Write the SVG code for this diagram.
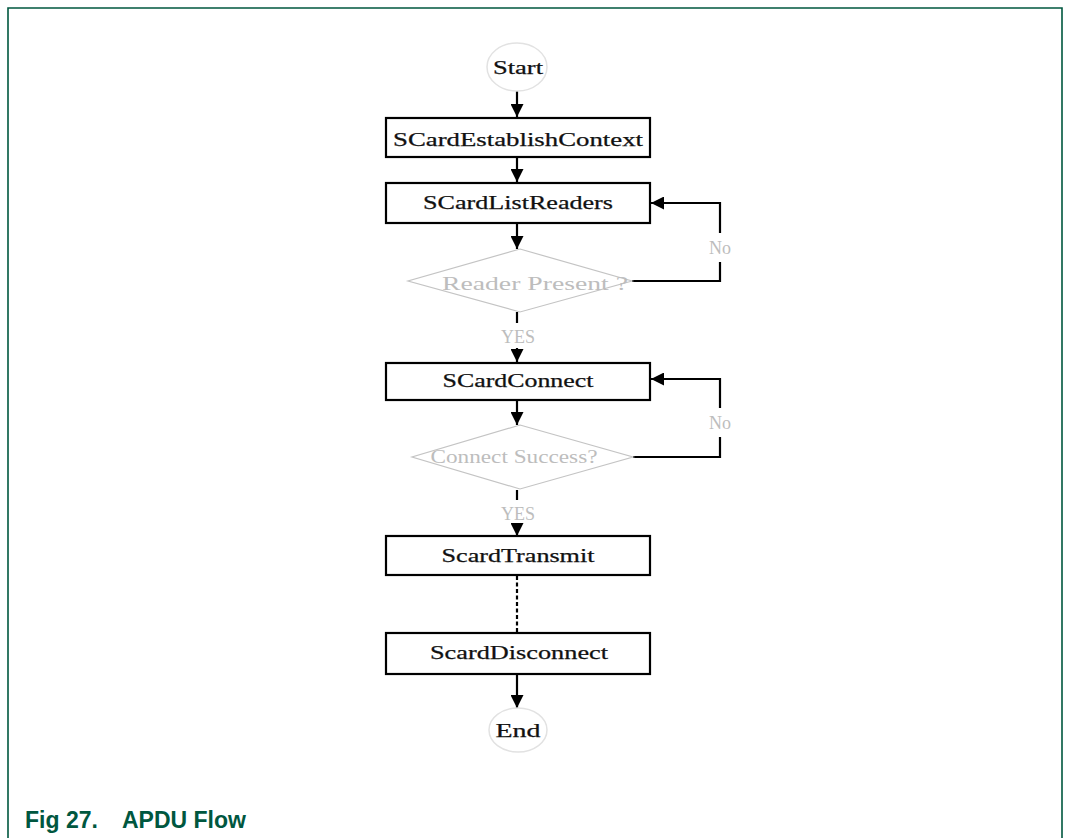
<svg xmlns="http://www.w3.org/2000/svg" width="1066" height="838" viewBox="0 0 1066 838">
  <style>
    .frame { fill: none; stroke: #00573f; stroke-width: 1.6; }
    .box { fill: #ffffff; stroke: #000000; stroke-width: 2.2; }
    .term { fill: #ffffff; stroke: #e2e2e2; stroke-width: 1.5; }
    .dec { fill: none; stroke: #c4c4c4; stroke-width: 1.2; }
    .lbl { font-family: "Liberation Serif", "Times New Roman", serif; font-size: 19px; fill: #111111; stroke: #111111; stroke-width: 0.25; text-anchor: middle; }
    .faint { font-family: "Liberation Serif", "Times New Roman", serif; font-size: 18px; fill: #bdbdbd; text-anchor: middle; }
    .line { fill: none; stroke: #000000; stroke-width: 2.2; }
    .dash { fill: none; stroke: #000000; stroke-width: 2.2; stroke-dasharray: 4 2.5; }
    .caption { font-family: "Liberation Sans", Arial, sans-serif; font-size: 23px; font-weight: bold; fill: #00573f; }
  </style>
  <defs>
    <marker id="arrow" viewBox="0 0 13 13" refX="13" refY="6.5" markerWidth="13" markerHeight="13" markerUnits="userSpaceOnUse" orient="auto">
      <path d="M0,0 L13,6.5 L0,13 Z" fill="#000000"/>
    </marker>
  </defs>

  <rect width="1066" height="838" fill="#ffffff"/>
  <path class="frame" d="M8,838 V8 H1062 V838"/>

  <g id="connectors">
    <line class="line" x1="517" y1="90" x2="517" y2="117" marker-end="url(#arrow)"/>
    <line class="line" x1="517" y1="157" x2="517" y2="182" marker-end="url(#arrow)"/>
    <line class="line" x1="517" y1="223" x2="517" y2="249" marker-end="url(#arrow)"/>
    <!-- No branch: back to SCardListReaders -->
    <path class="line" d="M632,281 H720 V262"/>
    <path class="line" d="M720,233 V203 H651" marker-end="url(#arrow)"/>
    <!-- YES branch to SCardConnect -->
    <line class="line" x1="517" y1="312" x2="517" y2="323"/>
    <line class="line" x1="517" y1="348" x2="517" y2="362" marker-end="url(#arrow)"/>
    <line class="line" x1="517" y1="400" x2="517" y2="425" marker-end="url(#arrow)"/>
    <!-- No branch: back to SCardConnect -->
    <path class="line" d="M633,457 H720 V437"/>
    <path class="line" d="M720,408 V379 H651" marker-end="url(#arrow)"/>
    <!-- YES branch to ScardTransmit -->
    <line class="line" x1="517" y1="490" x2="517" y2="500"/>
    <line class="line" x1="517" y1="525" x2="517" y2="536" marker-end="url(#arrow)"/>
    <line class="dash" x1="517" y1="576" x2="517" y2="633"/>
    <line class="line" x1="517" y1="674" x2="517" y2="708" marker-end="url(#arrow)"/>
  </g>

  <g id="node-start">
    <ellipse class="term" cx="517" cy="67" rx="30" ry="24"/>
    <text class="lbl" x="518" y="74" textLength="50" lengthAdjust="spacingAndGlyphs">Start</text>
  </g>

  <g id="node-establish">
    <rect class="box" x="386" y="118" width="264" height="39"/>
    <text class="lbl" x="518" y="146" textLength="250" lengthAdjust="spacingAndGlyphs">SCardEstablishContext</text>
  </g>

  <g id="node-listreaders">
    <rect class="box" x="386" y="183" width="264" height="40"/>
    <text class="lbl" x="518" y="209" textLength="190" lengthAdjust="spacingAndGlyphs">SCardListReaders</text>
  </g>

  <g id="node-reader-present">
    <polygon class="dec" points="520,249 632,281 520,312 408,281"/>
    <text class="faint" x="535" y="290" textLength="186" lengthAdjust="spacingAndGlyphs">Reader Present ?</text>
    <text class="faint" x="720" y="254" font-size="15">No</text>
    <text class="faint" x="518" y="343">YES</text>
  </g>

  <g id="node-connect">
    <rect class="box" x="386" y="363" width="264" height="37"/>
    <text class="lbl" x="518" y="387" textLength="151" lengthAdjust="spacingAndGlyphs">SCardConnect</text>
  </g>

  <g id="node-connect-success">
    <polygon class="dec" points="520,425 633,457 520,489 412,457"/>
    <text class="faint" x="514" y="463" textLength="167" lengthAdjust="spacingAndGlyphs">Connect Success?</text>
    <text class="faint" x="720" y="429" font-size="15">No</text>
    <text class="faint" x="518" y="520">YES</text>
  </g>

  <g id="node-transmit">
    <rect class="box" x="386" y="536" width="264" height="39"/>
    <text class="lbl" x="518" y="562" textLength="153" lengthAdjust="spacingAndGlyphs">ScardTransmit</text>
  </g>

  <g id="node-disconnect">
    <rect class="box" x="386" y="633" width="264" height="41"/>
    <text class="lbl" x="519" y="659" textLength="178" lengthAdjust="spacingAndGlyphs">ScardDisconnect</text>
  </g>

  <g id="node-end">
    <ellipse class="term" cx="518" cy="730" rx="29" ry="22"/>
    <text class="lbl" x="518" y="737" textLength="45" lengthAdjust="spacingAndGlyphs">End</text>
  </g>

  <text class="caption" x="25" y="828">Fig 27.</text>
  <text class="caption" x="122" y="828">APDU Flow</text>
</svg>
